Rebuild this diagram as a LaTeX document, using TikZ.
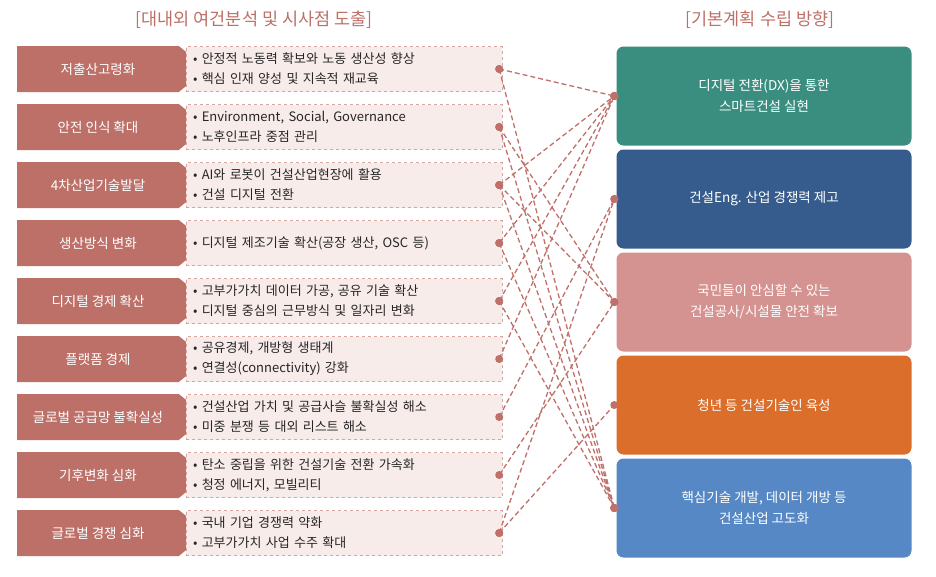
\documentclass[tikz,border=0pt]{standalone}
\usepackage{fontspec}
\setmainfont{Noto Sans CJK KR}
\usepackage{tikz}
\usetikzlibrary{shapes.symbols, positioning}
\definecolor{rosebrown}{HTML}{BD7068}
\definecolor{rosepale}{HTML}{F8ECEA}
\definecolor{roseline}{HTML}{D9A59F}
\definecolor{linkred}{HTML}{C0706A}
\definecolor{boxteal}{HTML}{3A8E80}
\definecolor{boxnavy}{HTML}{365C8D}
\definecolor{boxpink}{HTML}{D49390}
\definecolor{boxorange}{HTML}{DB6E2A}
\definecolor{boxblue}{HTML}{5588C4}
\tikzset{
  issue/.style={signal, signal to=east, signal pointer angle=78, fill=rosebrown, text=white,
    minimum width=190pt, minimum height=46pt, inner sep=0pt, font=\fontsize{13.5}{15}\selectfont},
  detail/.style={draw=roseline, dashed, fill=rosepale, minimum width=316pt, minimum height=45pt,
    text width=302pt, align=left, inner sep=0pt, text=black!85, font=\fontsize{13}{20}\selectfont},
  goal/.style={rounded corners=7pt, minimum width=295pt, minimum height=99pt, text=white,
    align=center, font=\fontsize{13.5}{21}\selectfont},
  link/.style={linkred, dash pattern=on 5pt off 3pt, line width=1.3pt},
  dot/.style={circle, fill=linkred, inner sep=0pt, minimum size=8pt}
}
\begin{document}
\begin{tikzpicture}[x=1pt, y=-1pt]
\useasboundingbox (0,0) rectangle (936,576);

\node [text=rosebrown, font=\fontsize{17.5}{19}\selectfont] (ttlL) at (254,20) {[대내외 여건분석 및 시사점 도출]};
\node [text=rosebrown, font=\fontsize{17.5}{19}\selectfont] (ttlR) at (760,20) {[기본계획 수립 방향]};

% left side
\foreach \i/\lab/\txt in {
  1/저출산고령화/{• 안정적 노동력 확보와 노동 생산성 향상\\• 핵심 인재 양성 및 지속적 재교육},
  2/안전 인식 확대/{• Environment, Social, Governance\\• 노후인프라 중점 관리},
  3/4차산업기술발달/{• AI와 로봇이 건설산업현장에 활용\\• 건설 디지털 전환},
  4/생산방식 변화/{• 디지털 제조기술 확산(공장 생산, OSC 등)},
  5/디지털 경제 확산/{• 고부가가치 데이터 가공, 공유 기술 확산\\• 디지털 중심의 근무방식 및 일자리 변화},
  6/플랫폼 경제/{• 공유경제, 개방형 생태계\\• 연결성(connectivity) 강화},
  7/글로벌 공급망 불확실성/{• 건설산업 가치 및 공급사슬 불확실성 해소\\• 미중 분쟁 등 대외 리스트 해소},
  8/기후변화 심화/{• 탄소 중립을 위한 건설기술 전환 가속화\\• 청정 에너지, 모빌리티},
  9/글로벌 경쟁 심화/{• 국내 기업 경쟁력 약화\\• 고부가가치 사업 수주 확대}}{
  \node [issue] (l\i) at (98, 69+58*\i-58) {\lab};
  \node [detail] (b\i) at (344, 69+58*\i-58) {\txt};
}

% right side
\node [goal, fill=boxteal]   (r1) at (764,96)  {디지털 전환(DX)을 통한\\스마트건설 실현};
\node [goal, fill=boxnavy]   (r2) at (764,199) {건설Eng. 산업 경쟁력 제고};
\node [goal, fill=boxpink]   (r3) at (764,302) {국민들이 안심할 수 있는\\건설공사/시설물 안전 확보};
\node [goal, fill=boxorange] (r4) at (764,405) {청년 등 건설기술인 육성};
\node [goal, fill=boxblue]   (r5) at (764,508) {핵심기술 개발, 데이터 개방 등\\건설산업 고도화};

% links
\foreach \i/\j in {1/1, 1/5, 2/3, 2/5, 3/1, 3/3, 3/5, 4/1, 4/5, 5/1, 5/5,
                   6/1, 7/2, 8/3, 9/2, 9/4}{
  \coordinate (s\i) at ([xshift=-3pt]b\i.east);
  \coordinate (t\j) at ([xshift=-2pt]r\j.west);
  \draw [link] (s\i) -- (t\j);
  \node [dot] at (s\i) {};
  \node [dot] at (t\j) {};
}
\end{tikzpicture}
\end{document}
